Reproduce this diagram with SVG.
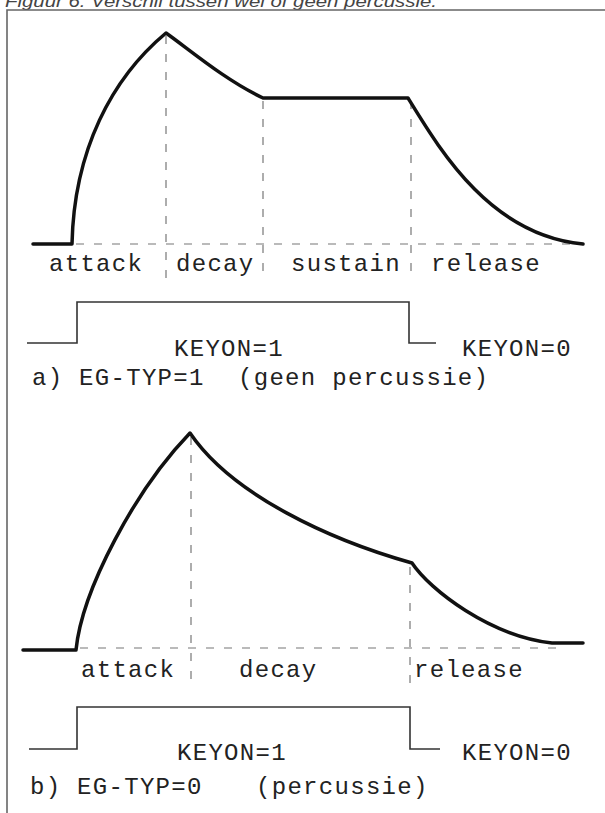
<svg xmlns="http://www.w3.org/2000/svg" width="605" height="813" viewBox="0 0 605 813">
<style>
.t{font-family:"Liberation Mono","DejaVu Sans Mono",monospace;font-size:24px;letter-spacing:1.3px;fill:#222}
.title{font-family:"Liberation Sans",Arial,sans-serif;font-style:italic;font-size:17px;fill:#444}
.env{fill:none;stroke:#111;stroke-width:3.5;stroke-linejoin:round;stroke-linecap:round}
.dash{fill:none;stroke:#777;stroke-width:1.2;stroke-dasharray:8 10}
.key{fill:none;stroke:#333;stroke-width:1.6}
.frame{fill:none;stroke:#666;stroke-width:1.6}
</style>
<rect x="0" y="0" width="605" height="813" fill="#fff"/>
<text class="title" x="5" y="6.5" textLength="432" lengthAdjust="spacingAndGlyphs">Figuur 6. Verschil tussen wel of geen percussie.</text>
<path class="frame" d="M7,813 V10 H605"/>

<g id="connectors">
  <path class="dash" d="M76,244 H582"/>
  <path class="dash" d="M166,36 V280"/>
  <path class="dash" d="M263,101 V276"/>
  <path class="dash" d="M411,101 V274"/>
  <path class="dash" d="M80,648 H560"/>
  <path class="dash" d="M191,437 V683"/>
  <path class="dash" d="M410,567 V683"/>
</g>

<g id="envelope-a">
  <path class="env" d="M33,244 H72 C74,150 112,78 166,33 C190,50 225,80 263,98 H408 C440,150 490,235 583,244"/>
</g>
<g id="labels-a">
  <text class="t" x="49" y="271">attack</text>
  <text class="t" x="176" y="271">decay</text>
  <text class="t" x="291" y="271">sustain</text>
  <text class="t" x="431" y="271">release</text>
</g>
<g id="keyon-a">
  <path class="key" d="M27,343 H77 V302 H409 V343 H436"/>
  <text class="t" x="174" y="356">KEYON=1</text>
  <text class="t" x="462" y="356">KEYON=0</text>
</g>
<g id="caption-a">
  <text class="t" x="32" y="385">a) EG-TYP=1</text>
  <text class="t" x="238" y="385" letter-spacing="2.2">(geen percussie)</text>
</g>

<g id="envelope-b">
  <path class="env" d="M23,650 H76 C82,590 135,490 190,433 C232,495 330,540 412,563 C430,590 490,636 552,643 H583"/>
</g>
<g id="labels-b">
  <text class="t" x="81" y="677">attack</text>
  <text class="t" x="239" y="677">decay</text>
  <text class="t" x="414" y="677">release</text>
</g>
<g id="keyon-b">
  <path class="key" d="M29,749 H77 V707 H410 V749 H440"/>
  <text class="t" x="177" y="760">KEYON=1</text>
  <text class="t" x="462" y="760">KEYON=0</text>
</g>
<g id="caption-b">
  <text class="t" x="30" y="794">b) EG-TYP=0</text>
  <text class="t" x="256" y="794">(percussie)</text>
</g>
</svg>
